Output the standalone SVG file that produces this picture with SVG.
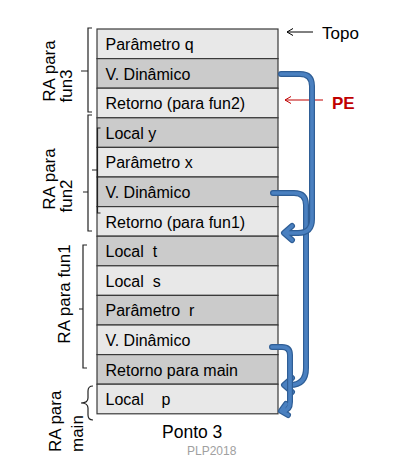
<svg xmlns="http://www.w3.org/2000/svg" width="417" height="460" viewBox="0 0 417 460">
<style>
text{font-family:"Liberation Sans",Arial,sans-serif}
.cell{font-size:16px;fill:#000;white-space:pre}
.lt{fill:#e8e8e8;stroke:#3a3a3a;stroke-width:1.2}
.dk{fill:#cbcbcb;stroke:#3a3a3a;stroke-width:1.2}
.lbl{font-size:17px;fill:#000}
.brace{fill:none;stroke:#222;stroke-width:1.2}
.bo{fill:none;stroke:#2f5e96;stroke-width:6;stroke-linecap:round;stroke-linejoin:round}
.bi{fill:none;stroke:#4a80c0;stroke-width:3.6;stroke-linecap:round;stroke-linejoin:round}
</style>
<rect width="417" height="460" fill="#fff"/>
<g id="stack">
<g id="r1"><rect class="lt" x="97" y="29" width="181" height="29.6"/><text class="cell" x="105.5" y="50">Parâmetro q</text></g>
<g id="r2"><rect class="dk" x="97" y="58.6" width="181" height="29.6"/><text class="cell" x="105.5" y="79.6">V. Dinâmico</text></g>
<g id="r3"><rect class="lt" x="97" y="88.2" width="181" height="29.6"/><text class="cell" x="105.5" y="109.2">Retorno (para fun2)</text></g>
<g id="r4"><rect class="dk" x="97" y="117.8" width="181" height="29.6"/><text class="cell" x="105.5" y="138.8">Local y</text></g>
<g id="r5"><rect class="lt" x="97" y="147.4" width="181" height="29.6"/><text class="cell" x="105.5" y="168.4">Parâmetro x</text></g>
<g id="r6"><rect class="dk" x="97" y="177" width="181" height="29.6"/><text class="cell" x="105.5" y="198">V. Dinâmico</text></g>
<g id="r7"><rect class="lt" x="97" y="206.6" width="181" height="29.6"/><text class="cell" x="105.5" y="227.6">Retorno (para fun1)</text></g>
<g id="r8"><rect class="dk" x="97" y="236.2" width="181" height="29.6"/><text class="cell" x="105.5" y="257.2">Local  t</text></g>
<g id="r9"><rect class="lt" x="97" y="265.8" width="181" height="29.6"/><text class="cell" x="105.5" y="286.8">Local  s</text></g>
<g id="r10"><rect class="dk" x="97" y="295.4" width="181" height="29.6"/><text class="cell" x="105.5" y="316.4">Parâmetro  r</text></g>
<g id="r11"><rect class="lt" x="97" y="325" width="181" height="29.6"/><text class="cell" x="105.5" y="346">V. Dinâmico</text></g>
<g id="r12"><rect class="dk" x="97" y="354.6" width="181" height="29.6"/><text class="cell" x="105.5" y="375.6">Retorno para main</text></g>
<g id="r13"><rect class="lt" x="97" y="384.2" width="181" height="29.6"/><text class="cell" x="105.5" y="405.2">Local    p</text></g>
</g>
<g id="ra-fun3">
<path class="brace" d="M92,28 H88 V112 H92 M88,71 H81"/>
<text class="lbl" transform="translate(55,71) rotate(-90)" text-anchor="middle">RA para</text>
<text class="lbl" transform="translate(72,86) rotate(-90)" text-anchor="middle">fun3</text>
</g>
<g id="ra-fun2">
<path class="brace" d="M92,115 H88 V231 H92 M88,192 H83"/>
<path class="brace" d="M100.5,128 H97.5 V213 H100.5 M97.5,170 H92"/>
<text class="lbl" transform="translate(55,179) rotate(-90)" text-anchor="middle">RA para</text>
<text class="lbl" transform="translate(72,196) rotate(-90)" text-anchor="middle">fun2</text>
</g>
<g id="ra-fun1">
<path class="brace" d="M87,245 H83 V368 H87 M83,309 H79"/>
<text class="lbl" transform="translate(70,294) rotate(-90)" text-anchor="middle">RA para fun1</text>
</g>
<g id="ra-main">
<path class="brace" d="M93,386 Q88,386 88,391 V398 Q88,403 81,403 Q88,403 88,408 V415 Q88,420 93,420"/>
<text class="lbl" transform="translate(61,452) rotate(-90)">RA para</text>
<text class="lbl" transform="translate(83,452) rotate(-90)">main</text>
</g>
<g id="topo">
<text x="322" y="38.5" font-size="17" fill="#000">Topo</text>
</g>
<g id="pe">
<text x="332" y="109" font-size="17" font-weight="bold" fill="#c00000">PE</text>
</g>
<g id="caption">
<text x="162" y="438" font-size="17.5" fill="#000">Ponto 3</text>
<text x="187" y="454.5" font-size="12" fill="#a0a0a0">PLP2018</text>
</g>
<g id="connectors">
<path d="M313,32 H287 M293,28.5 L287,32 L293,35.5" fill="none" stroke="#000" stroke-width="1"/>
<path d="M323,100 H285 M291,96.5 L285,100 L291,103.5" fill="none" stroke="#c00000" stroke-width="1"/>
<path class="bo" d="M273,193 H294 Q306,193 306,205 V368 Q306,385 290,385 H285 M292,378 L284,385 L292,392"/>
<path class="bi" d="M273,193 H294 Q306,193 306,205 V368 Q306,385 290,385 H285 M292,378 L284,385 L292,392"/>
<path class="bo" d="M281,74 H300 Q312,74 312,86 V219 Q312,233 298,233 H285 M292,226 L284,233 L292,240"/>
<path class="bi" d="M281,74 H300 Q312,74 312,86 V219 Q312,233 298,233 H285 M292,226 L284,233 L292,240"/>
<path class="bo" d="M272,347 H282 Q290,347 290,355 V402 Q290,410 283,411 M286,404 L281,411 L288,415"/>
<path class="bi" d="M272,347 H282 Q290,347 290,355 V402 Q290,410 283,411 M286,404 L281,411 L288,415"/>
</g>
</svg>
